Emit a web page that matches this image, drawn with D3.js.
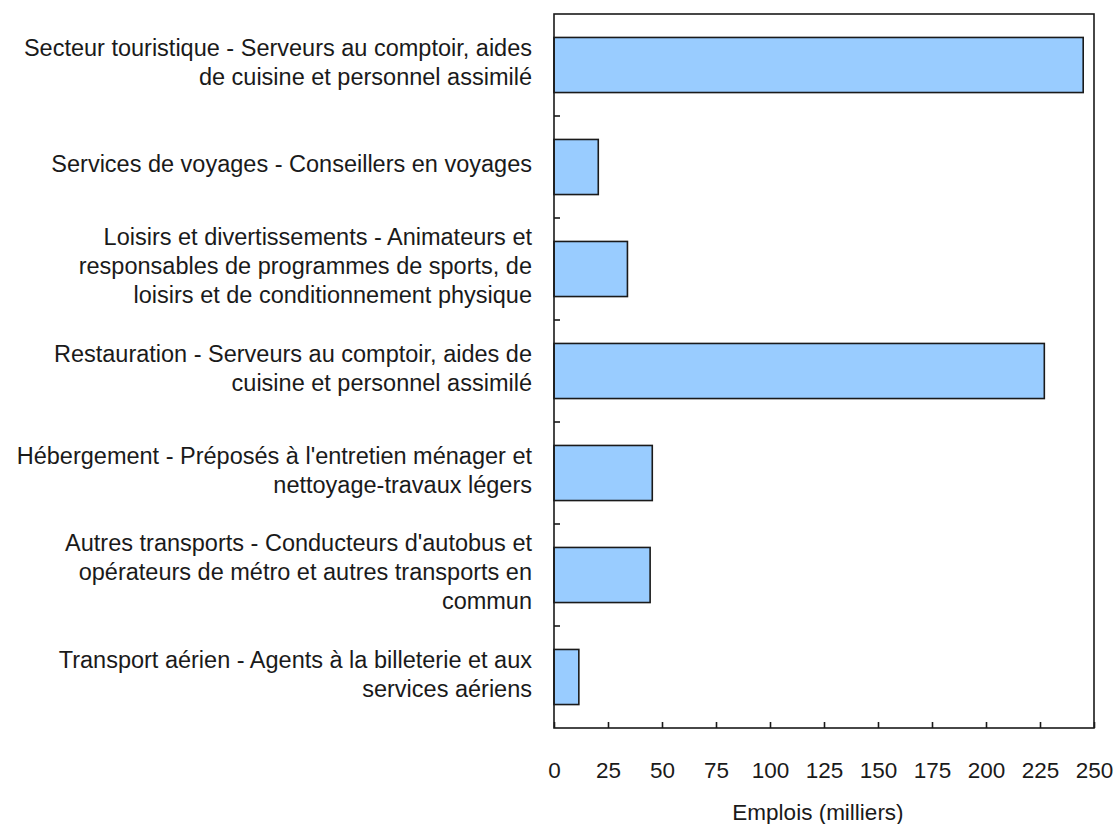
<!DOCTYPE html>
<html>
<head>
<meta charset="utf-8">
<script src="https://cdn.jsdelivr.net/npm/d3@7"></script>
<style>
  html, body { margin: 0; padding: 0; background: #fff; }
  svg { display: block; }
  text { font-family: "Liberation Sans", Arial, sans-serif; fill: #1a1a1a; }
</style>
</head>
<body>
<script>
const categories = [
  "Secteur touristique - Serveurs au comptoir, aides\nde cuisine et personnel assimilé",
  "Services de voyages - Conseillers en voyages",
  "Loisirs et divertissements - Animateurs et\nresponsables de programmes de sports, de\nloisirs et de conditionnement physique",
  "Restauration - Serveurs au comptoir, aides de\ncuisine et personnel assimilé",
  "Hébergement - Préposés à l'entretien ménager et\nnettoyage-travaux légers",
  "Autres transports - Conducteurs d'autobus et\nopérateurs de métro et autres transports en\ncommun",
  "Transport aérien - Agents à la billeterie et aux\nservices aériens"
];
const values = [245, 20.5, 34, 227, 45.5, 44.5, 11.5];
const xTicks = [0, 25, 50, 75, 100, 125, 150, 175, 200, 225, 250];
const xTitle = "Emplois (milliers)";

const W = 1118, H = 824;
const margin = { left: 554, right: 24, top: 14, bottom: 96 };
const fontSize = 23.5;
const lineH = 29;

const svg = d3.select("body").append("svg").attr("width", W).attr("height", H);

const x = d3.scaleLinear().domain([0, 250]).range([margin.left, W - margin.right]);
const y = d3.scaleBand().domain(d3.range(categories.length))
  .range([margin.top, H - margin.bottom]).paddingInner(0.46).paddingOuter(0.23);
const yOuter = d3.scaleBand().domain(d3.range(categories.length))
  .range([margin.top, H - margin.bottom]).padding(0);

const g = svg.append("g");

// bars
g.selectAll("rect.bar").data(values).enter().append("rect")
  .attr("class", "bar")
  .attr("x", x(0))
  .attr("y", (d, i) => y(i))
  .attr("width", d => x(d) - x(0))
  .attr("height", y.bandwidth())
  .attr("fill", "#99ccff")
  .attr("stroke", "#1a1a1a")
  .attr("stroke-width", 1.6);

// frame
const x0 = x(0), x1 = x(250), y0 = margin.top, y1 = H - margin.bottom;
g.append("rect")
  .attr("x", x0).attr("y", y0).attr("width", x1 - x0).attr("height", y1 - y0)
  .attr("fill", "none").attr("stroke", "#1a1a1a").attr("stroke-width", 1.6);

// x axis (ticks inside)
const xAxis = d3.axisBottom(x).tickValues(xTicks).tickSize(-6).tickPadding(34).tickFormat(d3.format("d"));
const xg = g.append("g").attr("transform", `translate(0,${y1})`).call(xAxis);
xg.select(".domain").remove();
xg.selectAll(".tick line").attr("stroke", "#1a1a1a").attr("stroke-width", 1.6);
xg.selectAll(".tick text").attr("font-size", fontSize - 1).attr("font-family", "Liberation Sans, Arial, sans-serif").attr("fill", "#1a1a1a");

// category ticks at band boundaries
const bounds = d3.range(1, categories.length).map(i => yOuter(i));
g.selectAll("line.ctick").data(bounds).enter().append("line")
  .attr("x1", x0).attr("x2", x0 + 6)
  .attr("y1", d => d).attr("y2", d => d)
  .attr("stroke", "#1a1a1a").attr("stroke-width", 1.6);

// category labels
categories.forEach((c, i) => {
  const lines = c.split("\n");
  const cy = yOuter(i) + yOuter.bandwidth() / 2 - 3;
  const t = g.append("text")
    .attr("text-anchor", "end")
    .attr("font-size", fontSize);
  lines.forEach((ln, k) => {
    t.append("tspan")
      .attr("x", x0 - 22)
      .attr("y", cy + (k - (lines.length - 1) / 2) * lineH + fontSize * 0.35)
      .text(ln);
  });
});

// x title
g.append("text")
  .attr("x", (x0 + x1) / 2 - 6)
  .attr("y", 820)
  .attr("text-anchor", "middle")
  .attr("font-size", fontSize - 1)
  .text(xTitle);
</script>
</body>
</html>
